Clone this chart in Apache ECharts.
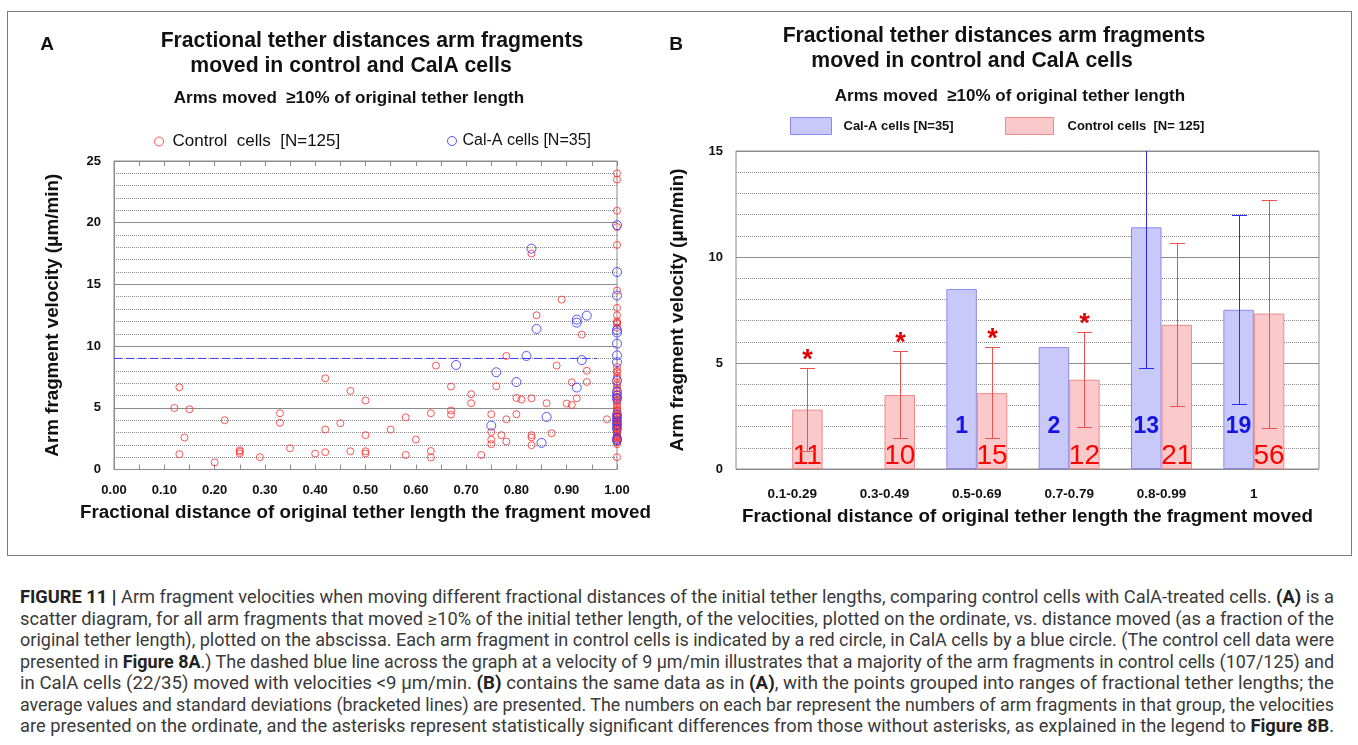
<!DOCTYPE html>
<html>
<head>
<meta charset="utf-8">
<script src="https://cdn.jsdelivr.net/npm/echarts@6/dist/echarts.min.js"></script>
<style>
  html, body { margin: 0; padding: 0; background: #fff; }
  #wrap { position: relative; width: 1358px; height: 745px; overflow: hidden; }
  #frame { position: absolute; left: 7px; top: 11px; width: 1343px; height: 543px; border: 1.5px solid #7a7a7a; }
  #chart { position: absolute; left: 0; top: 0; width: 1358px; height: 560px; }
  #caption {
    position: absolute; left: 20px; top: 587px; width: 1314px;
    font-family: Roboto, 'Liberation Sans', sans-serif;
    font-size: 17.5px; line-height: 21.5px; color: #3a3a3a;
  }
  #caption div { height: 21.5px; }
  #caption span.line { display: inline-block; white-space: nowrap; transform-origin: 0 0; }
  #caption b { color: #222; }
</style>
</head>
<body>
<div id="wrap">
  <div id="frame"></div>
  <div id="chart"></div>
  <div id="caption">
    <div><span class="line"><b>FIGURE 11 |</b> Arm fragment velocities when moving different fractional distances of the initial tether lengths, comparing control cells with CalA-treated cells. <b>(A)</b> is a</span></div>
    <div><span class="line">scatter diagram, for all arm fragments that moved ≥10% of the initial tether length, of the velocities, plotted on the ordinate, vs. distance moved (as a fraction of the</span></div>
    <div><span class="line">original tether length), plotted on the abscissa. Each arm fragment in control cells is indicated by a red circle, in CalA cells by a blue circle. (The control cell data were</span></div>
    <div><span class="line">presented in <b>Figure 8A</b>.) The dashed blue line across the graph at a velocity of 9 μm/min illustrates that a majority of the arm fragments in control cells (107/125) and</span></div>
    <div><span class="line">in CalA cells (22/35) moved with velocities &lt;9 μm/min. <b>(B)</b> contains the same data as in <b>(A)</b>, with the points grouped into ranges of fractional tether lengths; the</span></div>
    <div><span class="line">average values and standard deviations (bracketed lines) are presented. The numbers on each bar represent the numbers of arm fragments in that group, the velocities</span></div>
    <div><span class="line">are presented on the ordinate, and the asterisks represent statistically significant differences from those without asterisks, as explained in the legend to <b>Figure 8B</b>.</span></div>
  </div>
</div>
<script>
// ---- panel A: scatter ----
const controlPts = [
  [0.13, 6.66], [0.12, 4.99], [0.15, 4.88], [0.14, 2.59], [0.13, 1.24], [0.22, 3.99],
  [0.20, 0.57], [0.25, 1.56], [0.25, 1.30], [0.25, 1.45], [0.29, 1.00],
  [0.33, 4.56], [0.33, 3.78], [0.35, 1.72], [0.40, 1.29], [0.42, 7.39], [0.42, 3.24],
  [0.42, 1.40], [0.45, 3.75], [0.47, 6.37], [0.47, 1.48],
  [0.50, 5.59], [0.50, 2.78], [0.50, 1.48], [0.50, 1.30], [0.55, 3.24], [0.58, 4.23],
  [0.58, 1.18], [0.60, 2.43], [0.63, 4.56], [0.63, 1.50], [0.63, 0.97], [0.64, 8.42],
  [0.67, 6.72], [0.67, 4.78], [0.67, 4.45],
  [0.71, 6.10], [0.71, 5.37], [0.73, 1.18], [0.75, 4.48], [0.75, 3.04], [0.75, 2.43],
  [0.75, 2.05], [0.76, 6.75], [0.77, 2.78], [0.78, 9.20], [0.78, 4.07], [0.78, 2.27],
  [0.80, 5.80], [0.80, 4.48], [0.81, 5.67], [0.83, 5.77], [0.83, 2.78], [0.83, 2.60],
  [0.83, 1.97], [0.83, 17.5], [0.84, 12.5], [0.86, 5.37], [0.87, 2.94], [0.88, 8.42],
  [0.89, 13.77], [0.90, 5.34], [0.91, 5.23], [0.91, 7.07], [0.92, 5.77], [0.93, 10.93],
  [0.94, 8.00], [0.94, 7.09], [0.98, 4.07]
]
// control fragments that moved the full tether length (x = 1)
const controlFullY = [
  24.0, 23.5, 20.97, 19.65, 18.2, 14.5, 13.1, 12.5, 12.0, 11.9, 11.8, 11.5, 8.3, 8.0, 7.9,
  7.6, 7.4, 7.0, 6.8, 6.6, 6.4, 6.1, 5.9, 5.8, 5.6, 5.5, 5.3, 5.1, 4.9, 4.8, 4.7, 4.5,
  4.4, 4.3, 4.26, 4.1, 4.0, 3.9, 3.8, 3.7, 3.6, 3.5, 3.45, 3.3, 3.2, 3.1, 3.0, 2.9,
  2.8, 2.7, 2.6, 2.5, 2.3, 2.2, 2.05, 1.0
]
const calaPts = [
  [0.68, 8.47], [0.75, 3.56], [0.76, 7.88], [0.80, 7.09], [0.82, 9.20], [0.83, 17.9],
  [0.84, 11.39], [0.85, 2.16], [0.86, 4.26], [0.92, 12.15], [0.92, 11.9], [0.92, 6.64],
  [0.93, 8.87], [0.94, 12.47]
]
const calaFullY = [
  19.8, 16.0, 14.1, 11.3, 11.1, 10.2, 9.25, 8.7, 7.2, 6.3, 6.0, 5.75, 4.45, 4.2, 3.9,
  3.6, 3.3, 2.5, 2.37
]
const thresholdLine = [[0, 9], [0.96, 9]]

// ---- panel B: grouped bars ----
const groups = ['0.1-0.29', '0.3-0.49', '0.5-0.69', '0.7-0.79', '0.8-0.99', '1']
const calaMean = [null, null, 8.49, 5.75, 11.4, 7.51]
const ctrlMean = [2.8, 3.49, 3.58, 4.21, 6.8, 7.33]
const calaLow = [null, null, null, null, 4.76, 3.05]
const calaHigh = [null, null, null, null, 18.0, 11.96]
const ctrlLow = [0.83, 1.46, 1.46, 1.98, 2.95, 1.93]
const ctrlHigh = [4.76, 5.55, 5.75, 6.46, 10.66, 12.7]
const calaN = [null, null, 1, 2, 13, 19]
const ctrlN = [11, 10, 15, 12, 21, 56]
const significant = [1, 1, 1, 1, 0, 0]

const FONT = "'Liberation Sans', Arial, sans-serif"
const GRID_LINE = '#8c8c8c'
const RED = '#ff2a2a'
const BLUE = '#2a2aff'
const BAR_GAP = 0.34

// squeeze/stretch every caption line to the full text width (justified block)
document.querySelectorAll('#caption span.line').forEach(s => {
  const w = s.getBoundingClientRect().width
  s.style.transform = `scaleX(${1314 / w})`
})

const chart = echarts.init(document.getElementById('chart'))

const ringStyle = color => ({ color: 'rgba(0,0,0,0)', borderColor: color, borderWidth: 1 })

// error bars (mean ± SD) drawn next to the bars, with optional asterisk
function errorBars(name, lows, highs, side, color, stars) {
  const data = []
  lows.forEach((lo, i) => {
    if (lo != null) data.push([i, lo, highs[i], stars ? stars[i] : 0])
  })
  return {
    type: 'custom',
    name,
    xAxisIndex: 3,
    yAxisIndex: 2,
    z: 4,
    clip: true,
    encode: { x: 0, y: [1, 2] },
    data,
    renderItem(params, api) {
      const i = api.value(0)
      const catW = api.size([1, 0])[0]
      const bw = catW * (1 - BAR_GAP) / 2
      const cx = Math.round(api.coord([i, 0])[0] + side * bw / 2) + 0.5
      const yLo = Math.round(api.coord([i, api.value(1)])[1]) + 0.5
      const yHi = Math.round(api.coord([i, api.value(2)])[1]) + 0.5
      const cap = 7.5
      const st = { stroke: color, lineWidth: 1 }
      const children = [
        { type: 'line', shape: { x1: cx, y1: yLo, x2: cx, y2: yHi }, style: st },
        { type: 'line', shape: { x1: cx - cap, y1: yLo, x2: cx + cap, y2: yLo }, style: st },
        { type: 'line', shape: { x1: cx - cap, y1: yHi, x2: cx + cap, y2: yHi }, style: st },
      ]
      if (api.value(3)) {
        children.push({
          type: 'text', x: cx, y: yHi - 8,
          style: {
            text: '*', fill: '#e00000', font: `bold 27px ${FONT}`,
            align: 'center', verticalAlign: 'middle', textAlign: 'center', textVerticalAlign: 'middle'
          }
        })
      }
      return { type: 'group', children }
    }
  }
}

function label(x, y, text, size, weight) {
  return {
    type: 'text', x, y, silent: true,
    style: {
      text, fill: '#111', font: `${weight || 'bold'} ${size}px ${FONT}`,
      align: 'center', verticalAlign: 'middle', textAlign: 'center', textVerticalAlign: 'middle'
    }
  }
}

const axisLabelStyle = { fontFamily: FONT, fontWeight: 'bold', fontSize: 13, color: '#111' }
const axisNameStyle = { fontFamily: FONT, fontWeight: 'bold', fontSize: 18.8, color: '#111' }

chart.setOption({
  animation: false,
  textStyle: { fontFamily: FONT },
  graphic: [
    label(47, 45, 'A', 19),
    label(676, 45, 'B', 19),
    label(372, 41, 'Fractional tether distances arm fragments', 21.2),
    label(351, 66, 'moved in control and CalA cells', 21.2),
    label(349, 98, 'Arms moved  ≥10% of original tether length', 17),
    label(994, 36, 'Fractional tether distances arm fragments', 21.2),
    label(972, 61, 'moved in control and CalA cells', 21.2),
    label(1010, 96, 'Arms moved  ≥10% of original tether length', 17),
  ],
  legend: [
    {
      left: 149, top: 128, selectedMode: false, itemWidth: 9, itemHeight: 9,
      textStyle: { fontSize: 17, color: '#111', fontFamily: FONT, padding: [0, 0, 0, 4] },
      data: [{ name: 'ctrlPts', icon: 'circle', itemStyle: ringStyle(RED) }],
      formatter: () => 'Control  cells  [N=125]'
    },
    {
      left: 442, top: 128, selectedMode: false, itemWidth: 9, itemHeight: 9,
      textStyle: { fontSize: 16, color: '#111', fontFamily: FONT, padding: [0, 0, 0, 1] },
      data: [{ name: 'calaPts', icon: 'circle', itemStyle: ringStyle(BLUE) }],
      formatter: () => 'Cal-A cells [N=35]'
    },
    {
      left: 785, top: 112, selectedMode: false, itemWidth: 41, itemHeight: 17,
      textStyle: { fontSize: 13, fontWeight: 'bold', color: '#111', fontFamily: FONT, padding: [0, 0, 0, 7] },
      data: [{ name: 'calaBar', icon: 'rect', itemStyle: { color: '#c9c9f9', borderColor: '#8a8aee', borderWidth: 1 } }],
      formatter: () => 'Cal-A cells [N=35]'
    },
    {
      left: 1000, top: 112, selectedMode: false, itemWidth: 48, itemHeight: 17,
      textStyle: { fontSize: 13, fontWeight: 'bold', color: '#111', fontFamily: FONT, padding: [0, 0, 0, 9] },
      data: [{ name: 'ctrlBar', icon: 'rect', itemStyle: { color: '#fbc9c9', borderColor: '#f08a8a', borderWidth: 1 } }],
      formatter: () => 'Control cells  [N= 125]'
    },
  ],
  grid: [
    { left: 114, top: 161, width: 503, height: 308.5, show: true, borderColor: GRID_LINE, borderWidth: 1, backgroundColor: 'transparent' },
    { left: 736, top: 151, width: 583, height: 318, show: true, borderColor: GRID_LINE, borderWidth: 1, backgroundColor: 'transparent' },
    { left: 746, top: 151, width: 554, height: 318 },
  ],
  xAxis: [
    {
      type: 'value', gridIndex: 0, min: 0, max: 1, interval: 0.1,
      axisLine: { lineStyle: { color: GRID_LINE } },
      axisTick: { inside: true, length: 5, lineStyle: { color: GRID_LINE } },
      minorTick: { show: true, splitNumber: 2, length: 5, lineStyle: { color: GRID_LINE } },
      splitLine: { show: false },
      axisLabel: { ...axisLabelStyle, margin: 14, formatter: v => v.toFixed(2) },
      name: 'Fractional distance of original tether length the fragment moved',
      nameLocation: 'middle', nameGap: 34, nameTextStyle: axisNameStyle,
    },
    {
      type: 'value', gridIndex: 0, position: 'top', min: 0, max: 1, interval: 0.1,
      axisLine: { show: false },
      axisTick: { inside: true, length: 5, lineStyle: { color: GRID_LINE } },
      minorTick: { show: true, splitNumber: 2, length: 5, lineStyle: { color: GRID_LINE } },
      splitLine: { show: false },
      axisLabel: { show: false },
    },
    {
      type: 'value', gridIndex: 1, min: 0, max: 1,
      axisLine: { show: false }, axisTick: { show: false }, axisLabel: { show: false },
      splitLine: { show: false },
      name: 'Fractional distance of original tether length the fragment moved',
      nameLocation: 'middle', nameGap: 38, nameTextStyle: axisNameStyle,
    },
    {
      type: 'category', gridIndex: 2, data: groups,
      axisLine: { show: false }, axisTick: { show: false },
      axisLabel: { ...axisLabelStyle, fontSize: 13.5, margin: 18 },
    },
  ],
  yAxis: [
    {
      type: 'value', gridIndex: 0, min: 0, max: 25, interval: 5,
      axisLine: { show: true, lineStyle: { color: GRID_LINE } },
      axisTick: { show: false },
      minorTick: { show: false, splitNumber: 5 },
      splitLine: { lineStyle: { color: GRID_LINE } },
      minorSplitLine: { show: true, lineStyle: { color: '#8a8a8a', type: 'dotted' } },
      axisLabel: { ...axisLabelStyle, margin: 13 },
      name: 'Arm fragment velocity (μm/min)',
      nameLocation: 'middle', nameGap: 52, nameTextStyle: axisNameStyle,
    },
    {
      type: 'value', gridIndex: 1, min: 0, max: 15, interval: 5,
      axisLine: { show: false },
      axisTick: { show: false },
      minorTick: { show: false, splitNumber: 5 },
      splitLine: { lineStyle: { color: GRID_LINE } },
      minorSplitLine: { show: true, lineStyle: { color: '#8a8a8a', type: 'dotted' } },
      axisLabel: { ...axisLabelStyle, margin: 13 },
      name: 'Arm fragment velocity (μm/min)',
      nameLocation: 'middle', nameGap: 49, nameTextStyle: axisNameStyle,
    },
    { type: 'value', gridIndex: 2, min: 0, max: 15, show: false },
  ],
  series: [
    {
      type: 'line', name: 'threshold', xAxisIndex: 0, yAxisIndex: 0,
      data: thresholdLine, symbol: 'none', z: 2,
      lineStyle: { color: '#3a3aff', width: 1, type: [8, 4] },
    },
    {
      type: 'scatter', name: 'ctrlPts', xAxisIndex: 0, yAxisIndex: 0,
      data: controlPts.concat(controlFullY.map(y => [1, y])),
      symbol: 'circle', symbolSize: 7, z: 3,
      itemStyle: ringStyle(RED),
    },
    {
      type: 'scatter', name: 'calaPts', xAxisIndex: 0, yAxisIndex: 0,
      data: calaPts.concat(calaFullY.map(y => [1, y])),
      symbol: 'circle', symbolSize: 9, z: 3,
      itemStyle: ringStyle(BLUE),
    },
    {
      type: 'bar', name: 'calaBar', xAxisIndex: 3, yAxisIndex: 2,
      data: calaMean, barGap: 0, barCategoryGap: '34%',
      itemStyle: { color: '#c9c9f9', borderColor: '#8a8aee', borderWidth: 1 },
      label: {
        show: true, position: 'insideBottom', distance: 31,
        formatter: p => calaN[p.dataIndex] == null ? '' : String(calaN[p.dataIndex]),
        fontFamily: FONT, fontSize: 23, fontWeight: 'bold', color: '#1414e6',
      },
    },
    {
      type: 'bar', name: 'ctrlBar', xAxisIndex: 3, yAxisIndex: 2,
      data: ctrlMean, barGap: 0, barCategoryGap: '34%',
      itemStyle: { color: '#fbc9c9', borderColor: '#f08a8a', borderWidth: 1 },
      label: {
        show: true, position: 'insideBottom', distance: -1,
        formatter: p => String(ctrlN[p.dataIndex]),
        fontFamily: FONT, fontSize: 28, color: '#ff0000',
      },
    },
    errorBars('calaErr', calaLow, calaHigh, -1, '#2a2aff', null),
    errorBars('ctrlErr', ctrlLow, ctrlHigh, 1, '#f05050', significant),
  ],
})
</script>
</body>
</html>
